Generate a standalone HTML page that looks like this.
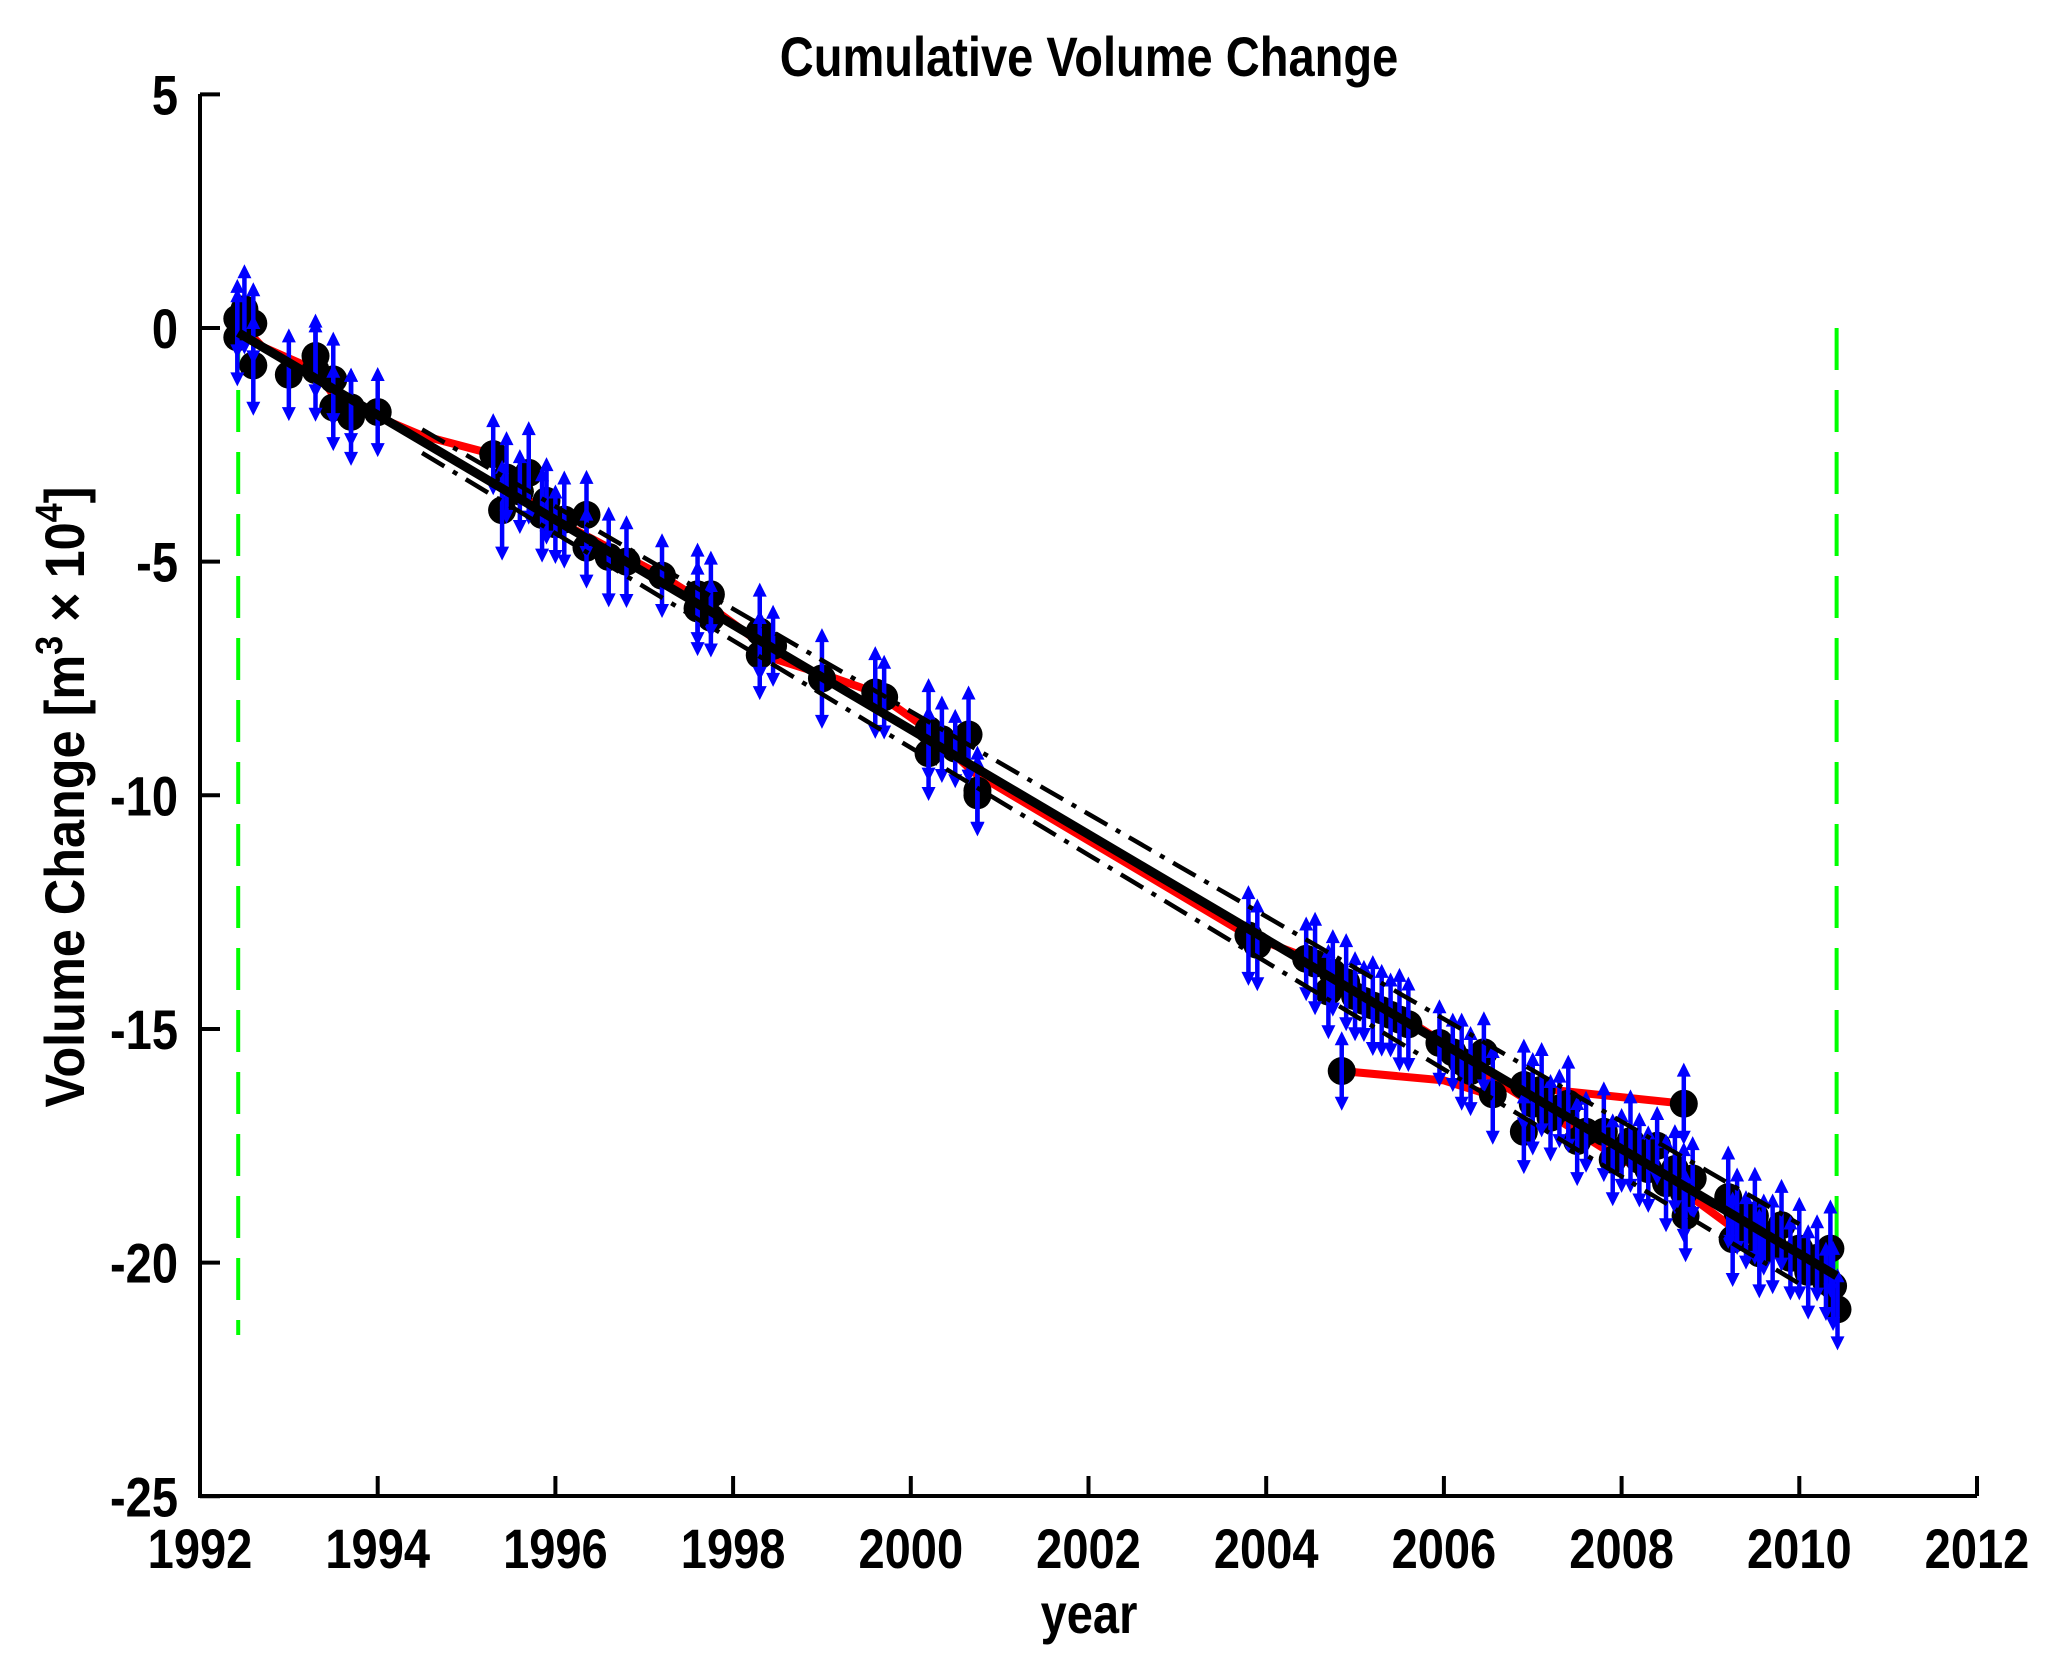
<!DOCTYPE html>
<html><head><meta charset="utf-8"><style>
html,body{margin:0;padding:0;background:#fff}
svg{display:block}
text{font-family:"Liberation Sans",sans-serif;font-weight:bold;fill:#000}
</style></head><body>
<svg id="s" xmlns="http://www.w3.org/2000/svg" width="2047" height="1662" viewBox="0 0 2047 1662">
<g id="plot"></g>
<path d="M200,94 V1496 H1977" fill="none" stroke="#000" stroke-width="4"/>
<g id="ticks" stroke="#000" stroke-width="4"></g>
<g id="labels" font-size="56"></g>
<text transform="translate(1089,76) scale(0.84,1)" font-size="56" text-anchor="middle">Cumulative Volume Change</text>
<text transform="translate(1089,1633) scale(0.84,1)" font-size="56" text-anchor="middle">year</text>
<text transform="translate(84,797) rotate(-90) scale(0.9,1)" font-size="56" text-anchor="middle">Volume Change [m<tspan dy="-22" font-size="38">3</tspan><tspan dy="22">  × 10</tspan><tspan dy="-22" font-size="38">4</tspan><tspan dy="22">]</tspan></text>
</svg>
<script>
const NS="http://www.w3.org/2000/svg";
const X=y=>200+(y-1992)*88.85, Y=v=>328-v*46.73;
function el(p,tag,a){const e=document.createElementNS(NS,tag);for(const k in a)e.setAttribute(k,a[k]);p.appendChild(e);return e;}
const plot=document.getElementById('plot'),ticks=document.getElementById('ticks'),labels=document.getElementById('labels');
for(let yr=1992;yr<=2012;yr+=2){const x=X(yr);if(yr>1992)el(ticks,'line',{x1:x,x2:x,y1:1496,y2:1476});
 const t=el(labels,'text',{transform:`translate(${x},1568) scale(0.84,1)`,'text-anchor':'middle'});t.textContent=yr;}
for(let v=5;v>=-25;v-=5){const y=Y(v);el(ticks,'line',{x1:200,x2:220,y1:y,y2:y});
 const t=el(labels,'text',{transform:`translate(178,${y+20}) scale(0.84,1)`,'text-anchor':'end'});t.textContent=v;}
[1992.43,2010.42].forEach((yr,i)=>el(plot,'line',{x1:X(yr),x2:X(yr),y1:Y(0),y2:i?1322:1335,stroke:'#00ff00','stroke-width':4,'stroke-dasharray':'42,20'}));
const D=[[1992.42,0.2],[1992.42,-0.2],[1992.5,0.4],[1992.6,0.1],[1992.6,-0.8],[1993.0,-1.0],[1993.3,-0.6],[1993.3,-0.9],[1993.5,-1.1],[1993.5,-1.7],[1993.7,-1.7],[1993.7,-1.9],[1994.0,-1.8],
[1995.3,-2.7],[1995.4,-3.9],[1995.45,-3.2],[1995.6,-3.5],[1995.7,-3.1],[1995.85,-4.0],[1995.9,-3.7],[1996.0,-4.2],[1996.1,-4.1],[1996.35,-4.0],[1996.35,-4.7],[1996.6,-4.9],[1996.8,-5.0],[1997.2,-5.3],[1997.6,-5.7],[1997.6,-6.0],[1997.75,-5.7],[1997.75,-6.2],[1998.3,-6.5],[1998.3,-7.0],[1998.45,-6.8],[1999.0,-7.5],[1999.6,-7.8],[1999.7,-7.9],[2000.2,-8.6],[2000.2,-9.1],[2000.35,-8.8],[2000.5,-9.0],[2000.65,-8.7],[2000.75,-9.9],[2000.75,-10.0],
[2003.8,-13.0],[2003.9,-13.2],[2004.45,-13.5],[2004.55,-13.6],[2004.7,-14.2],[2004.75,-13.8],[2004.85,-15.9],[2004.9,-14.0],[2005.0,-14.3],[2005.1,-14.4],[2005.2,-14.5],[2005.3,-14.6],[2005.4,-14.7],[2005.5,-14.8],[2005.6,-14.9],
[2005.95,-15.3],[2006.1,-15.5],[2006.2,-15.7],[2006.3,-15.9],[2006.45,-15.5],[2006.55,-16.4],[2006.9,-16.2],[2006.9,-17.2],[2007.0,-16.6],[2007.1,-16.3],[2007.2,-16.9],[2007.3,-16.7],[2007.4,-16.6],[2007.5,-17.4],[2007.6,-17.2],[2007.8,-17.2],[2007.9,-17.8],[2008.0,-17.6],[2008.1,-17.4],[2008.2,-17.8],[2008.3,-18.0],[2008.4,-17.5],[2008.5,-18.3],[2008.6,-18.0],[2008.7,-16.6],[2008.7,-18.5],[2008.72,-19.0],[2008.8,-18.2],
[2009.2,-18.6],[2009.25,-19.5],[2009.3,-18.9],[2009.4,-19.3],[2009.5,-19.0],[2009.55,-19.8],[2009.6,-19.4],[2009.7,-19.6],[2009.8,-19.2],[2009.9,-19.9],[2010.0,-19.7],[2010.1,-20.2],[2010.2,-19.9],[2010.3,-20.4],[2010.35,-19.7],[2010.38,-20.5],[2010.43,-21.0]];
const red=[[1992.45,0.1],[1992.7,-0.4],[1993.3,-0.9],[1993.6,-1.7],[1994.0,-1.9],[1994.5,-2.3],[1995.3,-2.7],[1995.5,-3.4],[1996,-4.1],[1996.4,-4.5],[1997.2,-5.3],[1997.7,-5.9],[1998.2,-6.6],[1998.5,-7.1],[1999,-7.4],[1999.6,-7.8],[2000.2,-8.6],[2000.7,-9.5],[2003.8,-13.0],[2004.5,-13.5],[2004.85,-13.9],[2005.5,-14.7],[2006.0,-15.3],[2006.5,-16.0],[2007,-16.6],[2007.5,-17.2],[2008,-17.8],[2008.5,-18.2],[2009,-18.9],[2009.5,-19.6],[2010,-20.1],[2010.4,-20.6]];
const pts=a=>a.map(p=>X(p[0]).toFixed(1)+','+Y(p[1]).toFixed(1)).join(' ');
el(plot,'polyline',{points:pts(red),fill:'none',stroke:'#ff0000','stroke-width':8,'stroke-linejoin':'round'});
el(plot,'polyline',{points:pts([[2004.85,-15.9],[2006.0,-16.1],[2006.5,-16.4]]),fill:'none',stroke:'#ff0000','stroke-width':8});
el(plot,'polyline',{points:pts([[2007.2,-16.3],[2008.7,-16.6]]),fill:'none',stroke:'#ff0000','stroke-width':8});
D.forEach(p=>el(plot,'circle',{cx:X(p[0]),cy:Y(p[1]),r:14,fill:'#000'}));
D.forEach((p,i)=>{const e=0.85+((i*37)%10)/35;const x=X(p[0]),y=Y(p[1]);
 const yt=Y(p[1]+e), yb=Y(p[1]-e);
 el(plot,'line',{x1:x,x2:x,y1:yt+6,y2:yb-6,stroke:'#0000ff','stroke-width':4.5});
 el(plot,'path',{d:`M${x-7},${yt+14} L${x},${yt} L${x+7},${yt+14} Z M${x-7},${yb-14} L${x},${yb} L${x+7},${yb-14} Z`,fill:'#0000ff'});});
const f=y=>-0.1-1.122*(y-1992.43);
[1,-1].forEach(s=>{const a=[];for(let y=1994.5;y<=2010.42;y+=0.5)a.push([y,f(y)+s*(0.25+0.025*(y-1994.5))]);
 el(plot,'polyline',{points:pts(a),fill:'none',stroke:'#000','stroke-width':4.5,'stroke-dasharray':'26,10,5,10'});});
el(plot,'line',{x1:X(1992.43),y1:Y(f(1992.43)),x2:X(2010.42),y2:Y(f(2010.42)),stroke:'#000','stroke-width':9});
</script>
</body></html>
